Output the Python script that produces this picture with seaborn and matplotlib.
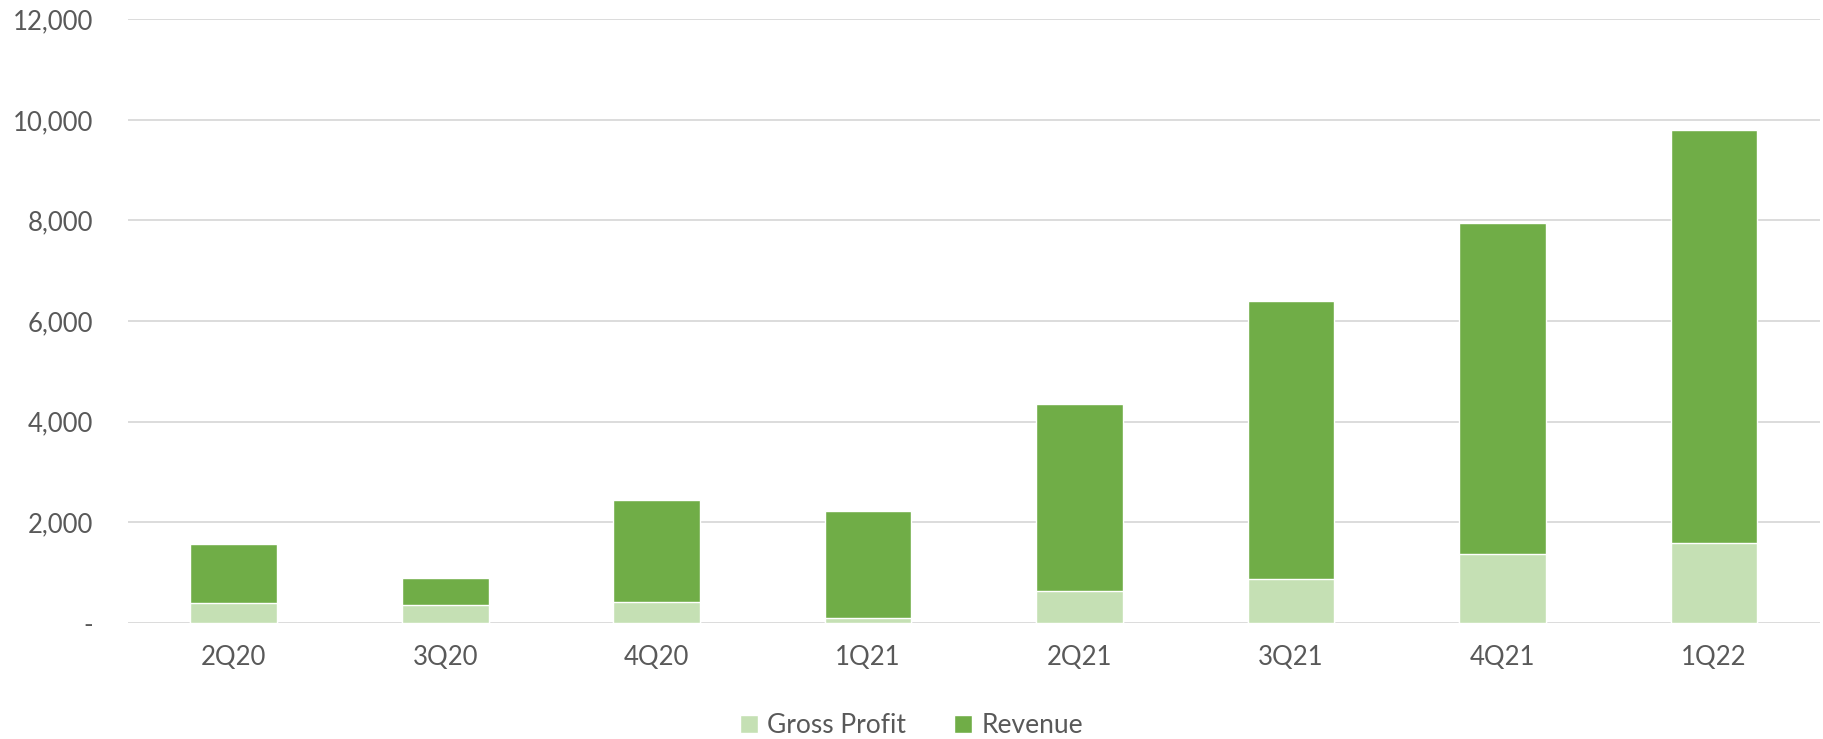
import matplotlib
matplotlib.use("Agg")
import matplotlib.pyplot as plt
import seaborn as sns
import pandas as pd
from matplotlib.patches import Patch
from matplotlib.ticker import FuncFormatter

quarters = ["2Q20", "3Q20", "4Q20", "1Q21", "2Q21", "3Q21", "4Q21", "1Q22"]
revenue = [1565, 889, 2439, 2227, 4354, 6400, 7952, 9801]
gross_profit = [405, 358, 425, 93, 640, 880, 1380, 1585]
y_ticks = [0, 2000, 4000, 6000, 8000, 10000, 12000]

df = pd.DataFrame({"quarter": quarters, "Revenue": revenue, "Gross Profit": gross_profit})

sns.set_theme(style="white")
plt.rcParams["font.family"] = ["Lato", "DejaVu Sans"]

dark = "#70AD47"
light = "#C5E0B4"
txt = "#595959"
fs = 18.5

fig = plt.figure(figsize=(18.23, 7.39), dpi=100)
ax = fig.add_axes([0.0702, 0.157, 0.928, 0.817])

sns.barplot(data=df, x="quarter", y="Revenue", color=dark, width=0.41,
            saturation=1, ax=ax, zorder=3)
sns.barplot(data=df, x="quarter", y="Gross Profit", color=light, width=0.41,
            saturation=1, ax=ax, zorder=4)

ax.set_ylim(0, 12000)
ax.set_yticks(y_ticks)
ax.yaxis.set_major_formatter(FuncFormatter(lambda v, p: "-" if v == 0 else f"{int(v):,}"))
ax.grid(axis="y", color="#D9D9D9", linewidth=1.3, zorder=0)
ax.set_axisbelow(True)
for s in ax.spines.values():
    s.set_visible(False)
ax.set_xlabel("")
ax.set_ylabel("")
ax.tick_params(axis="y", length=0, pad=25, labelsize=fs, labelcolor=txt)
ax.tick_params(axis="x", length=0, pad=16, labelsize=fs, labelcolor=txt)
ax.set_xlim(-0.5, len(quarters) - 0.5)

handles = [Patch(facecolor=light, label="Gross Profit"), Patch(facecolor=dark, label="Revenue")]
leg = fig.legend(handles=handles, loc="center", bbox_to_anchor=(0.5, 0.018), ncol=2,
                 frameon=False, fontsize=fs + 0.5, handlelength=0.7, handleheight=0.7,
                 columnspacing=1.8, handletextpad=0.35)
for t in leg.get_texts():
    t.set_color(txt)

fig.savefig("out.png", dpi=100)
